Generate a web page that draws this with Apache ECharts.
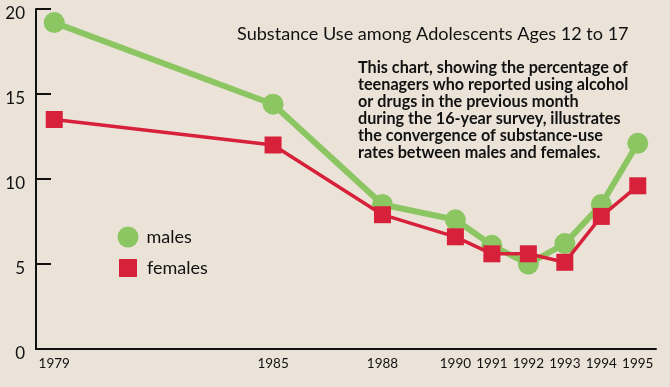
<!DOCTYPE html>
<html>
<head>
<meta charset="utf-8">
<script src="https://cdn.jsdelivr.net/npm/echarts@6/dist/echarts.min.js"></script>
<style>
html,body{margin:0;padding:0;background:#ECE3D8;}
#chart{width:670px;height:387px;}
</style>
</head>
<body>
<div id="chart"></div>
<script>
// Axis categories (every year gets a tick) and the years that are labelled
var axisYears = ['1979','1980','1981','1982','1983','1984','1985','1986','1987','1988','1989','1990','1991','1992','1993','1994','1995'];
var labelYears = ['1979','1985','1988','1990','1991','1992','1993','1994','1995'];
// Survey years and values (percent)
var years = ['1979','1985','1988','1990','1991','1992','1993','1994','1995'];
var males = [19.2, 14.4, 8.5, 7.6, 6.1, 5.0, 6.2, 8.5, 12.1];
var females = [13.5, 12.0, 7.9, 6.6, 5.6, 5.6, 5.1, 7.8, 9.6];
var yTicks = [0, 5, 10, 15, 20];

var titleText = 'Substance Use among Adolescents Ages 12 to 17';
var noteText = 'This chart, showing the percentage of\nteenagers who reported using alcohol\nor drugs in the previous month\nduring the 16-year survey, illustrates\nthe convergence of substance-use\nrates between males and females.';

var GREEN = '#8BC663', RED = '#D7213B', INK = '#111111', FONT = 'Lato';

function pairs(xs, ys){ return xs.map(function(x,i){ return [x, ys[i]]; }); }

var chart = echarts.init(document.getElementById('chart'), null, {renderer:'canvas'});
chart.setOption({
  animation: false,
  backgroundColor: '#ECE3D8',
  textStyle: {fontFamily: FONT},
  title: [
    {text: titleText, left: 232, top: 20,
     textStyle: {fontFamily: FONT, fontSize: 18.1, fontWeight: 'normal', color: INK}},
    {text: noteText, left: 353, top: 54.5,
     textStyle: {fontFamily: FONT, fontSize: 16.2, fontWeight: 'bold', color: INK, lineHeight: 16.9}}
  ],
  legend: [
    {data: [{name: 'males', icon: 'circle'}], left: 112.5, top: 221.5, itemWidth: 21, itemHeight: 21,
     textStyle: {fontFamily: FONT, fontSize: 18, color: INK, padding: [0,0,0,3]}},
    {data: [{name: 'females', icon: 'rect'}], left: 114, top: 254, itemWidth: 18, itemHeight: 18,
     textStyle: {fontFamily: FONT, fontSize: 18, color: INK, padding: [0,0,0,5]}}
  ],
  grid: {left: 36, right: 14, top: 9, bottom: 38, containLabel: false},
  xAxis: {
    type: 'category', data: axisYears, boundaryGap: true,
    axisLine: {lineStyle: {color: INK, width: 2}},
    axisTick: {inside: true, length: 8, alignWithLabel: true, interval: 0, lineStyle: {color: INK, width: 2}},
    axisLabel: {interval: function(i, v){ return labelYears.indexOf(v) >= 0; },
                fontFamily: FONT, fontSize: 13.5, color: INK, margin: 8},
    splitLine: {show: false}
  },
  yAxis: {
    type: 'value', min: yTicks[0], max: yTicks[yTicks.length-1], interval: 5,
    axisLine: {show: true, lineStyle: {color: INK, width: 2}},
    axisTick: {show: true, inside: true, length: 15, lineStyle: {color: INK, width: 2}},
    axisLabel: {fontFamily: FONT, fontSize: 17, color: INK, margin: 11, verticalAlign: 'top', lineHeight: 10},
    splitLine: {show: false}
  },
  series: [
    {name: 'males', type: 'line', data: pairs(years, males),
     symbol: 'circle', symbolSize: 21, showAllSymbol: true,
     lineStyle: {color: GREEN, width: 6}, itemStyle: {color: GREEN}, z: 2},
    {name: 'females', type: 'line', data: pairs(years, females),
     symbol: 'rect', symbolSize: 17, showAllSymbol: true,
     lineStyle: {color: RED, width: 3.5}, itemStyle: {color: RED}, z: 3}
  ]
});
</script>
</body>
</html>
